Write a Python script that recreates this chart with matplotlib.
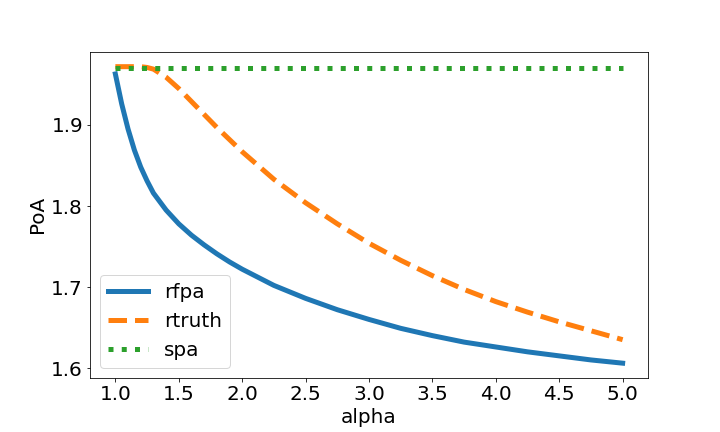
import matplotlib
matplotlib.use('Agg')
import matplotlib.pyplot as plt
from matplotlib.ticker import MultipleLocator

# Data
alpha = [1.0, 1.05, 1.1, 1.15, 1.2, 1.25, 1.3, 1.4, 1.5, 1.6, 1.7, 1.8, 1.9,
         2.0, 2.25, 2.5, 2.75, 3.0, 3.25, 3.5, 3.75, 4.0, 4.25, 4.5, 4.75, 5.0]
rfpa = [1.963, 1.926, 1.895, 1.869, 1.848, 1.831, 1.816, 1.795, 1.778, 1.764,
        1.752, 1.741, 1.731, 1.722, 1.702, 1.686, 1.672, 1.660, 1.649, 1.640,
        1.632, 1.626, 1.620, 1.615, 1.610, 1.606]
rtruth = [1.972, 1.972, 1.972, 1.972, 1.972, 1.971, 1.969, 1.959, 1.945, 1.929,
          1.913, 1.897, 1.882, 1.867, 1.833, 1.804, 1.778, 1.754, 1.733, 1.714,
          1.697, 1.682, 1.669, 1.657, 1.646, 1.635]
spa = [1.970] * len(alpha)

plt.rcParams['font.size'] = 20

fig, ax = plt.subplots(figsize=(10, 6), dpi=72)
fig.subplots_adjust(bottom=0.125)

ax.plot(alpha, rfpa, '-', linewidth=5, label='rfpa')
ax.plot(alpha, rtruth, '--', linewidth=5, label='rtruth')
ax.plot(alpha, spa, ':', linewidth=5, label='spa')

ax.yaxis.set_major_locator(MultipleLocator(0.1))
ax.set_xlabel('alpha')
ax.set_ylabel('PoA')
ax.legend(loc='lower left')

fig.savefig('out.png', dpi=72)
